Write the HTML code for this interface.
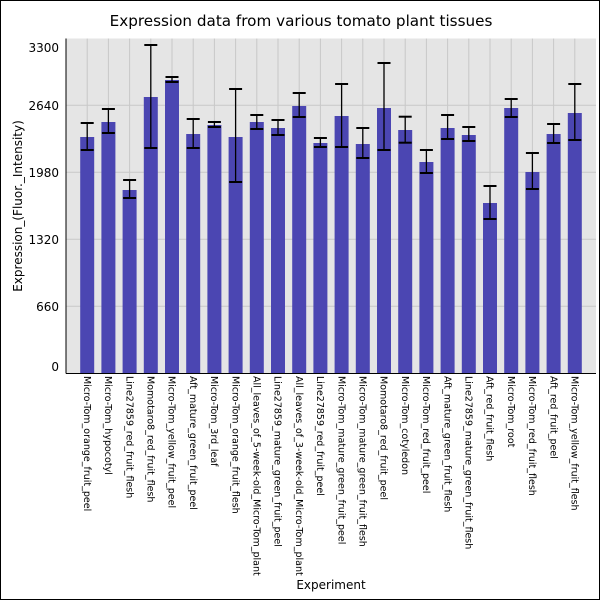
<!DOCTYPE html>
<html><head><meta charset="utf-8"><style>
html,body{margin:0;padding:0;background:#fff}
svg{display:block}
text{font-family:"DejaVu Sans","Liberation Sans",sans-serif}
</style></head><body>
<svg id="s" width="600" height="600" xmlns="http://www.w3.org/2000/svg">
<rect x="0.5" y="0.5" width="599" height="599" fill="#fff" stroke="#000"/>
<text x="301" y="26" font-size="15.2" text-anchor="middle">Expression data from various tomato plant tissues</text>
<rect x="66" y="38.5" width="530" height="335" fill="#e5e5e5"/>
<g id="g"></g>
<line x1="66" y1="38.5" x2="66" y2="373.5" stroke="#000"/>
<line x1="66" y1="373.5" x2="596" y2="373.5" stroke="#000"/>
<text x="59" y="52" font-size="12" text-anchor="end">3300</text>
<text x="59" y="110" font-size="12" text-anchor="end">2640</text>
<text x="59" y="177" font-size="12" text-anchor="end">1980</text>
<text x="59" y="244" font-size="12" text-anchor="end">1320</text>
<text x="59" y="311" font-size="12" text-anchor="end">660</text>
<text x="59" y="371" font-size="12" text-anchor="end">0</text>
<text transform="translate(22,206) rotate(-90)" font-size="12" text-anchor="middle">Expression_(Fluor._Intensity)</text>
<text x="331" y="589" font-size="12" text-anchor="middle">Experiment</text>
</svg>
<script>
var names=["Micro-Tom_orange_fruit_peel","Micro-Tom_hypocotyl","Line27859_red_fruit_flesh","Momotaro8_red_fruit_flesh","Micro-Tom_yellow_fruit_peel","Aft_mature_green_fruit_peel","Micro-Tom_3rd_leaf","Micro-Tom_orange_fruit_flesh","All_leaves_of_5-week-old_Micro-Tom_plant","Line27859_mature_green_fruit_peel","All_leaves_of_3-week-old_Micro-Tom_plant","Line27859_red_fruit_peel","Micro-Tom_mature_green_fruit_peel","Micro-Tom_mature_green_fruit_flesh","Momotaro8_red_fruit_peel","Micro-Tom_cotyledon","Micro-Tom_red_fruit_peel","Aft_mature_green_fruit_flesh","Line27859_mature_green_fruit_flesh","Aft_red_fruit_flesh","Micro-Tom_root","Micro-Tom_red_fruit_flesh","Aft_red_fruit_peel","Micro-Tom_yellow_fruit_flesh"];
var d=[[137,123,150],[122,109,133],[190,180,198],[97,45,148],[80,77,82],[134,119,148],[125,122,127],[137,89,182],[122,115,129],[128,120,135],[106,93,117],[143,138,147],[116,84,147],[144,128,158],[108,63,150],[130,116.7,142.7],[162,150,173],[128,115,139],[135,127,141],[203,186,219],[108,99,117],[172,153,189],[134,124,143],[113,84,140]];
var h='';
[105.3,172.3,239.3,306.3].forEach(function(y){h+='<line x1="66" x2="596" y1="'+y+'" y2="'+y+'" stroke="#c8c8c8"/>';});
for(var i=0;i<24;i++){var c=66+21.2*(i+1);h+='<line x1="'+c+'" x2="'+c+'" y1="38.5" y2="373" stroke="#c8c8c8"/>';}
for(var i=0;i<24;i++){var c=66+21.2*(i+1),v=d[i];
h+='<rect x="'+(c-7)+'" y="'+v[0]+'" width="14" height="'+(373.3-v[0])+'" fill="#4b46b2"/>';
h+='<line x1="'+c+'" x2="'+c+'" y1="'+v[1]+'" y2="'+v[2]+'" stroke="#000" stroke-width="1.3"/>';
h+='<line x1="'+(c-6.5)+'" x2="'+(c+6.5)+'" y1="'+v[1]+'" y2="'+v[1]+'" stroke="#000" stroke-width="2"/>';
h+='<line x1="'+(c-6.5)+'" x2="'+(c+6.5)+'" y1="'+v[2]+'" y2="'+v[2]+'" stroke="#000" stroke-width="2"/>';
h+='<text transform="translate('+(c-3.3)+',376) rotate(90)" font-size="9.5">'+names[i]+'</text>';}
document.getElementById('g').innerHTML=h;
</script>
</body></html>
